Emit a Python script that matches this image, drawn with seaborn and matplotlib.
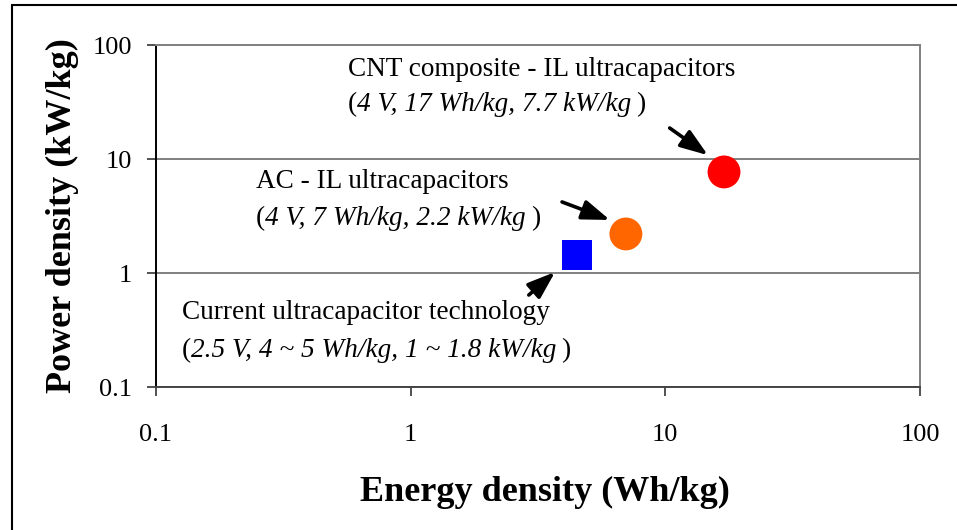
import matplotlib
matplotlib.use("Agg")
import matplotlib.pyplot as plt
import matplotlib.transforms as mtransforms
from matplotlib.lines import Line2D
import seaborn as sns
import pandas as pd

# Ultracapacitor technologies: energy density (Wh/kg) vs power density (kW/kg)
technologies = ["CNT composite - IL", "AC - IL", "Current"]
energy_wh_kg = [17.0, 7.0, 4.5]
power_kw_kg = [7.7, 2.2, 1.45]
marker_colors = ["#ff0000", "#ff6600", "#0000ff"]
marker_shapes = ["o", "o", "s"]

title_lines = [
    "CNT composite - IL ultracapacitors",
    "AC - IL ultracapacitors",
    "Current ultracapacitor technology",
]
spec_lines = [
    "4 V, 17 Wh/kg, 7.7 kW/kg",
    "4 V, 7 Wh/kg, 2.2 kW/kg",
    "2.5 V, 4 ~ 5 Wh/kg, 1 ~ 1.8 kW/kg",
]

axis_ticks = [0.1, 1, 10, 100]
axis_ticklabels = ["0.1", "1", "10", "100"]

sns.set_theme(style="white")
plt.rcParams["font.family"] = ["Liberation Serif", "DejaVu Serif"]
plt.rcParams["text.color"] = "black"
plt.rcParams["axes.labelcolor"] = "black"
plt.rcParams["xtick.color"] = "black"
plt.rcParams["ytick.color"] = "black"

df = pd.DataFrame({
    "tech": technologies,
    "energy": energy_wh_kg,
    "power": power_kw_kg,
})

fig = plt.figure(figsize=(9.57, 5.30), dpi=100)
ax = fig.add_axes([156 / 957, 1 - 387 / 530, (920 - 156) / 957, (387 - 45) / 530])
ax.set_xscale("log")
ax.set_yscale("log")
ax.set_xlim(0.1, 100)
ax.set_ylim(0.1, 100)

# horizontal grid at each decade
ax.set_axisbelow(True)
ax.yaxis.grid(True, color="#808080", linewidth=1.4)
ax.xaxis.grid(False)

circles = df[[m == "o" for m in marker_shapes]]
squares = df[[m == "s" for m in marker_shapes]]
pal = dict(zip(technologies, marker_colors))
sns.scatterplot(data=circles, x="energy", y="power", hue="tech", palette=pal,
                marker="o", s=560, linewidth=0, legend=False, ax=ax, zorder=3)
sns.scatterplot(data=squares, x="energy", y="power", hue="tech", palette=pal,
                marker="s", s=450, linewidth=0, legend=False, ax=ax, zorder=3)

ax.set_xticks(axis_ticks)
ax.set_xticklabels(axis_ticklabels)
ax.set_yticks(axis_ticks)
ax.set_yticklabels(axis_ticklabels)
ax.minorticks_off()
ax.tick_params(axis="x", which="major", direction="out", length=6.5, width=1.2,
               color="#333333", labelcolor="black", pad=20, labelsize=19, bottom=True)
ax.tick_params(axis="y", which="major", direction="out", length=6.5, width=1.2,
               color="#333333", labelcolor="black", pad=11, labelsize=19, left=True)

for side in ["top", "right"]:
    ax.spines[side].set_color("#808080")
    ax.spines[side].set_linewidth(1.4)
ax.spines["left"].set_color("black")
ax.spines["left"].set_linewidth(1.4)
ax.spines["bottom"].set_color("#444444")
ax.spines["bottom"].set_linewidth(1.4)

ax.set_xlabel("Energy density (Wh/kg)", fontsize=26, fontweight="bold", va="center",
              color="black")
ax.set_ylabel("Power density (kW/kg)", fontsize=26, fontweight="bold", va="center",
              color="black")
ax.xaxis.set_label_coords(0.509, -0.307)
ax.yaxis.set_label_coords(-0.123, 0.5)

# Two-line descriptions: upright name, then italic specs in upright parentheses
text_anchor = [(0.567, 53.5), (0.247, 5.57), (0.1265, 0.395)]
spec_anchor = [(0.567, 26.4), (0.247, 2.64), (0.1265, 0.1834)]
renderer = fig.canvas.get_renderer()
fs = 19.6
for (tx, ty), (sx, sy), head, spec in zip(text_anchor, spec_anchor, title_lines, spec_lines):
    ax.text(tx, ty, head, fontsize=fs, va="baseline", ha="left", color="black")
    tr = ax.transData
    pieces = [("(", "normal", 0), (spec, "italic", 0), (")", "normal", 5)]
    for s, style, gap in pieces:
        tr = mtransforms.offset_copy(tr, fig=fig, x=gap, units="dots")
        t = ax.text(sx, sy, s, fontsize=fs, style=style, va="baseline", ha="left",
                    transform=tr, color="black")
        w = t.get_window_extent(renderer).width
        tr = mtransforms.offset_copy(tr, fig=fig, x=w, units="dots")

# Arrows pointing at each marker
arrow_tails = [(10.4, 18.7), (3.93, 4.2), (2.91, 0.641)]
arrow_heads = [(14.7, 10.8), (6.06, 2.92), (3.69, 1.02)]
for tail, head in zip(arrow_tails, arrow_heads):
    ax.annotate("", xy=head, xytext=tail,
                arrowprops=dict(arrowstyle="-|>,head_length=1.4,head_width=0.5",
                                color="black", lw=2.6, shrinkA=0, shrinkB=0))

# slide frame
fig.add_artist(Line2D([12 / 957, 1.0], [1 - 5 / 530, 1 - 5 / 530], color="black", lw=1.5))
fig.add_artist(Line2D([12 / 957, 12 / 957], [0, 1 - 5 / 530], color="black", lw=1.5))

fig.savefig("out.png", dpi=100)
